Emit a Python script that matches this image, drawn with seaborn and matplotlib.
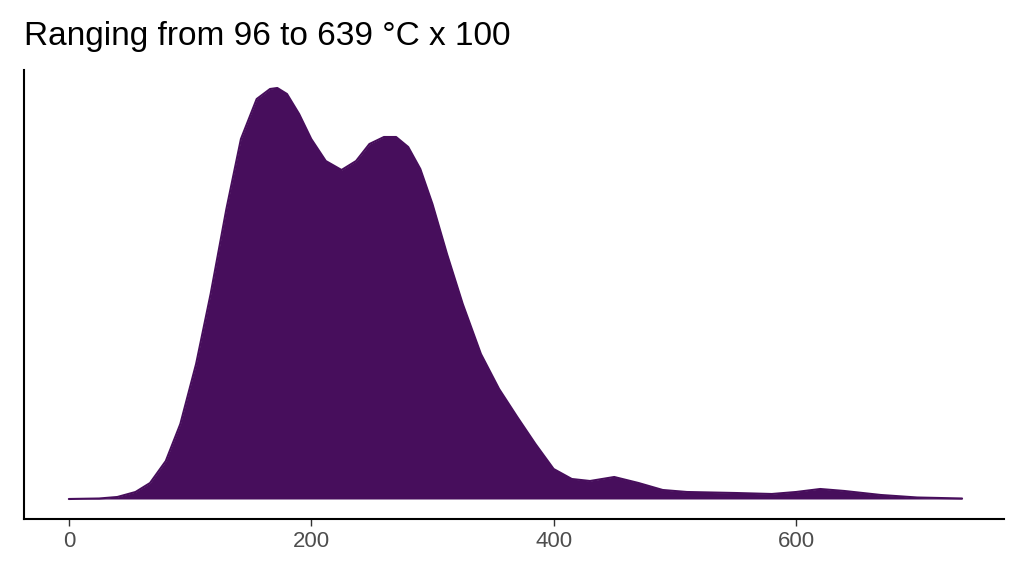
import matplotlib
matplotlib.use("Agg")
import matplotlib.pyplot as plt
import seaborn as sns

x_vals = [0, 25, 40, 55, 67, 80, 92, 105, 117, 130, 142, 155, 166, 172, 180, 190, 200, 212, 225, 237, 248, 260, 270, 280, 290, 300, 312, 325, 340, 355, 370, 385, 400, 415, 430, 450, 470, 490, 510, 550, 580, 600, 620, 640, 670, 700, 737]
density = [0, 0.5, 2, 7, 16, 38, 75, 135, 205, 290, 360, 400, 410, 411, 405, 385, 360, 338, 329, 338, 355, 362, 362, 352, 330, 295, 245, 195, 145, 110, 82, 55, 30, 20, 18, 22, 16, 9, 7, 6, 5, 7, 10, 8, 4, 1.5, 0.5]
xticks = [0, 200, 400, 600]
title = "Ranging from 96 to 639 °C x 100"

sns.set_theme(style="ticks")
plt.rcParams['font.family'] = ['Liberation Sans', 'DejaVu Sans']
fig = plt.figure(figsize=(10.24, 5.76), dpi=100)
ax = fig.add_axes([24/1024, 1-519/576, 980/1024, 449/576])
col = "#470E5C"
ax.fill_between(x_vals, density, color=col, linewidth=0)
sns.lineplot(x=x_vals, y=density, ax=ax, color=col, linewidth=1.5)
ax.set_xlim(-37, 771.6)
ax.set_ylim(-20, 429)
ax.set_yticks([])
ax.set_xticks(xticks)
ax.tick_params(axis='x', labelsize=16, labelcolor="#4D4D4D", length=5, width=1, color="#333333")
ax.set_xlabel(""); ax.set_ylabel("")
for s in ["top", "right"]:
    ax.spines[s].set_visible(False)
for s in ["left", "bottom"]:
    ax.spines[s].set_linewidth(1.5); ax.spines[s].set_color("black")
fig.text(24/1024, 1-36/576, title, fontsize=24, va="center", ha="left", color="black")
fig.savefig("out.png", dpi=100)
